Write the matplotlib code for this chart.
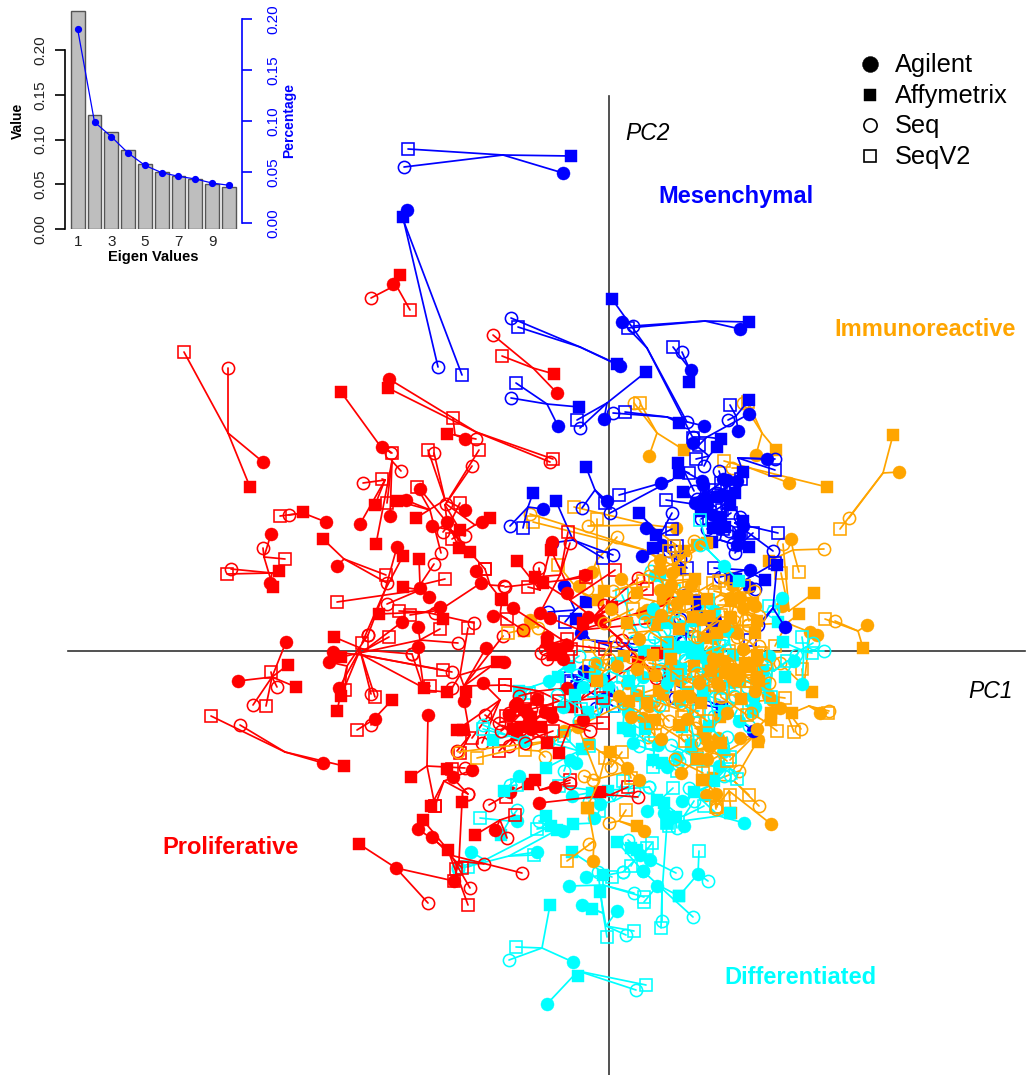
import matplotlib
matplotlib.use('Agg')
import matplotlib.pyplot as plt

plt.rcParams['font.family'] = ['Liberation Sans', 'DejaVu Sans']

W, H = 1029, 1075

# scree plot values
eigen_index = list(range(1, 11))
eigen_values = [0.2436, 0.127, 0.1087, 0.088, 0.0726, 0.0633, 0.059, 0.056, 0.050, 0.0473]
eigen_percent = [0.190, 0.099, 0.0846, 0.0685, 0.0564, 0.0492, 0.0456, 0.043, 0.039, 0.0368]

# every sample: hub, then Agilent, Affymetrix, Seq, SeqV2 scores (PC1, PC2 pairs)
red_samples = [
    (-381,218, -346,189, -359,164, -381,283, -425,299),
    (-345,94, -338,117, -336,64, -346,103, -324,92),
    (-337,78, -339,68, -330,80, -378,82, -382,77),
    (-306,138, -283,129, -306,139, -320,136, -329,135),
    (-265,92, -272,85, -286,112, -222,68, -223,76),
    (-231,208, -227,204, -268,259, -218,198, -217,198),
    (-133,219, -220,272, -221,263, -59,189, -56,192),
    (-154,216, -144,212, -162,217, -133,212, -156,233),
    (-164,151, -144,141, -193,133, -175,198, -181,201),
    (-164,146, -162,129, -149,121, -137,185, -130,201),
    (-224,171, -249,127, -234,146, -246,168, -227,172),
    (-217,190, -219,135, -233,107, -208,180, -222,148),
    (-179,141, -203,151, -212,150, -168,98, -192,164),
    (-160,126, -189,162, -150,103, -166,119, -149,148),
    (-134,126, -127,129, -119,133, -163,147, -157,112),
    (-159,121, -177,125, -139,99, -144,115, -124,82),
    (-224,61, -212,104, -206,95, -241,16, -247,8),
    (-189,66, -189,63, -190,92, -175,87, -164,72),
    (-189,61, -180,54, -206,64, -222,47, -272,49),
    (-119,66, -133,80, -108,52, -105,65, -124,82),
    (-169,41, -128,68, -166,32, -174,38, -199,36),
    (-184,39, -169,44, -230,37, -135,28, -210,40),
    (-244,1, -207,29, -275,14, -197,-3, -220,14),
    (-189,11, -191,24, -268,-6, -151,8, -169,22),
    (-247,-4, -276,-1, -185,-37, -157,-21, -166,-19),
    (-249,1, -270,-37, -268,-45, -238,-43, -234,-46),
    (-262,-15, -280,-11, -272,-60, -241,16, -264,-39),
    (-337,-26, -323,9, -321,-14, -356,-54, -343,-55),
    (-337,-26, -371,-30, -313,-36, -332,-36, -338,-21),
    (-324,-101, -286,-112, -265,-115, -369,-74, -398,-65),
    (-236,-69, -234,-68, -217,-49, -238,-74, -252,-79),
    (-185,-39, -191,4, -162,-41, -197,-3, -179,-35),
    (-145,-35, -123,3, -112,-11, -106,15, -104,-34),
    (-149,-24, -105,-11, -143,-41, -157,-37, -141,23),
    (-109,-49, -126,-32, -152,-79, -127,-92, -137,-87),
    (-139,-84, -145,-50, -146,-79, -152,-100, -149,-102),
    (-182,-115, -181,-64, -198,-126, -144,-117, -174,-155),
    (-159,-124, -156,-126, -162,-118, -141,-143, -157,-118),
    (-165,-130, -137,-119, -178,-155, -141,-143, -174,-155),
    (-161,-199, -191,-178, -186,-169, -139,-237, -141,-254),
    (-159,-204, -177,-186, -161,-199, -87,-222, -147,-217),
    (-213,-217, -213,-217, -250,-193, -181,-252, -155,-230),
    (-150,-210, -155,-230, -147,-151, -125,-213, -153,-218),
    (-89,-64, -94,-54, -84,-59, -110,-72, -103,-65),
    (-84,-74, -64,-61, -92,-84, -100,-95, -70,-80),
    (-94,-84, -80,-70, -96,-78, -124,-64, -110,-100),
    (-94,-139, -99,-141, -81,-133, -120,-154, -103,-146),
    (-69,-139, -54,-136, -74,-129, -39,-132, -39,-129),
    (1,-144, -70,-152, -9,-141, 29,-146, 19,-136),
    (-109,-169, -114,-179, -134,-184, -102,-187, -94,-164),
    (-69,61, -57,109, -92,90, -70,83, -81,64),
    (-49,76, -69,38, -74,74, -39,108, -41,119),
    (-44,71, -24,76, -58,101, -104,64, -23,74),
    (-39,51, -42,58, -66,68, 13,11, 6,81),
    (-19,31, -21,34, 3,44, 29,73, 38,62),
    (-29,21, -59,33, -26,28, 63,48, 56,29),
    (-49,1, -42,6, -56,1, -62,-8, -41,-6),
    (-39,6, -96,43, -62,9, -5,46, -4,2),
    (31,-9, -9,31, 48,-2, 47,-27, 50,-24),
    (-70,-40, -42,-37, -37,-56, -90,-45, -104,-34),
    (-29,-49, -26,-69, 29,-11, -14,-28, -6,-47),
    (-39,-74, -57,-66, -50,-102, -19,-80, -6,-72),
    (-109,36, -116,35, -107,51, -86,21, -102,32),
    (-213,366, -216,367, -209,376, -238,353, -199,341),
    (-76,283, -52,258, -55,277, -116,316, -107,295),
    (-85,-60, -92,-52, -78,-66, -100,-62, -72,-48),
    (-75,-70, -82,-62, -68,-76, -88,-78, -62,-60),
    (-95,-70, -100,-64, -88,-76, -108,-80, -84,-58),
    (-70,-85, -78,-78, -62,-92, -84,-92, -56,-80),
    (-65,-55, -72,-48, -58,-62, -78,-58, -50,-50),
    (-50,-5, -46,-8, -56,-4, -64,2, -38,2),
    (-55,8, -62,14, -48,2, -68,-2, -42,12),
]

blue_samples = [
    (-106,496, -46,478, -38,495, -205,484, -201,502),
    (-205,429, -202,441, -206,434, -171,284, -147,276),
    (-29,304, 11,285, 8,287, -98,333, -91,324),
    (38,303, 13,329, 3,352, 78,229, 84,213),
    (96,330, 131,322, 140,329, 24,325, 19,323),
    (80,283, 82,281, 80,269, 73,299, 64,304),
    (-62,247, -51,225, -30,244, -98,253, -93,268),
    (-2,248, -5,232, 37,279, -29,223, -32,231),
    (58,234, 95,225, 70,228, 4,238, 16,239),
    (127,235, 129,220, 140,251, 119,231, 121,246),
    (98,214, 140,237, 112,212, 84,214, 90,206),
    (129,193, 158,192, 134,179, 166,192, 166,181),
    (100,195, 84,208, 108,204, 95,185, 87,192),
    (63,171, 52,168, 70,178, 1,138, 10,156),
    (75,180, 93,170, 69,188, 85,160, 80,178),
    (-14,161, -2,150, -23,184, -27,143, -4,148),
    (-81,144, -66,142, -76,158, -99,125, -86,123),
    (-36,111, -57,108, -53,150, 4,96, -6,93),
    (-34,41, -45,65, -23,49, -61,39, -44,29),
    (-19,11, -28,18, -33,32, 17,0, 26,7),
    (78,18, 64,8, 63,9, 71,32, 83,14),
    (118,-59, 144,-80, 113,-56, 66,-47, 68,-35),
    (-12,-26, -25,-20, -5,-30, -42,-26, -38,-30),
    (-12,-45, -30,-35, 0,-40, -13,-57, 4,-55),
    (164,43, 176,24, 168,86, 149,26, 141,11),
    (126,128, 134,125, 134,130, 164,100, 169,118),
    (116,161, 118,171, 115,155, 110,180, 106,161),
    (121,151, 128,170, 121,146, 131,134, 113,141),
    (91,146, 86,148, 74,159, 95,142, 57,151),
    (96,151, 96,154, 92,140, 107,144, 100,132),
    (106,126, 111,123, 104,123, 120,120, 130,118),
    (51,116, 37,123, 30,138, 63,138, 63,122),
    (56,101, 33,95, 47,116, 71,92, 78,83),
    (51,101, 53,106, 44,103, 60,100, 68,105),
    (111,111, 128,106, 103,109, 124,107, 114,122),
    (136,81, 141,81, 156,71, 111,74, 105,83),
    (136,71, 140,64, 127,72, 146,62, 166,88),
    (91,41, 87,51, 88,43, 76,56, 104,25),
    (101,31, 100,31, 106,29, 98,33, 106,26),
    (105,140, 98,146, 112,134, 92,132, 118,148),
    (120,165, 114,172, 126,158, 108,158, 132,172),
    (100,160, 94,166, 108,154, 88,152, 112,168),
    (110,130, 104,136, 116,124, 98,122, 122,138),
    (135,110, 130,116, 140,104, 126,98, 144,118),
]

orange_samples = [
    (274,178, 290,179, 284,216, 240,133, 231,122),
    (141,183, 180,168, 218,164, 123,183, 115,190),
    (153,218, 147,196, 167,201, 134,248, 139,249),
    (184,101, 182,112, 160,90, 215,102, 190,79),
    (180,40, 173,45, 205,58, 174,107, 172,78),
    (249,20, 258,26, 254,3, 226,30, 216,32),
    (178,28, 208,16, 190,37, 139,26, 166,5),
    (48,218, 40,195, 75,201, 25,248, 31,248),
    (36,101, 51,91, 71,81, -79,137, -76,129),
    (41,126, 67,123, 75,100, -21,125, -35,144),
    (-12,91, -17,79, -5,60, 8,114, -12,132),
    (195,-35, 201,19, 203,-41, 171,-12, 193,-18),
    (200,-55, 211,-62, 183,-62, 220,-60, 219,-62),
    (175,-55, 171,-57, 162,-69, 192,-78, 185,-81),
    (160,-45, 159,-44, 148,-4, 164,-12, 176,-47),
    (150,-50, 163,-49, 141,-16, 126,-46, 144,-49),
    (145,-85, 131,-87, 149,-91, 104,-108, 121,-109),
    (125,-130, 149,-89, 93,-129, 150,-155, 140,-144),
    (120,-140, 162,-173, 122,-162, 107,-156, 121,-144),
    (105,-130, 97,-144, 104,-127, 130,-120, 107,-156),
    (100,-85, 109,-87, 111,-66, 86,-77, 73,-66),
    (95,-80, 96,-86, 94,-81, 90,-70, 88,-60),
    (85,-100, 100,-95, 83,-97, 78,-85, 88,-106),
    (45,-75, 34,-67, 37,-74, 39,-86, 46,-84),
    (50,-60, 40,-55, 46,-69, 60,-70, 54,-54),
    (30,-45, 18,-32, 54,-44, 20,-25, 28,-41),
    (70,-30, 28,-44, 79,-41, 69,-17, 60,-35),
    (85,-30, 81,-46, 99,-19, 90,-5, 75,-25),
    (75,-20, 71,-29, 104,-17, 95,-40, 65,-5),
    (90,-5, 61,-19, 104,-11, 85,15, 98,5),
    (105,0, 98,-9, 109,-2, 120,-10, 110,-25),
    (110,5, 103,-1, 94,13, 80,25, 115,20),
    (135,-5, 128,18, 131,-19, 150,5, 120,0),
    (125,25, 104,13, 122,33, 139,26, 115,40),
    (135,40, 134,43, 148,30, 150,35, 125,20),
    (130,60, 146,45, 123,73, 111,50, 140,30),
    (130,60, 124,66, 121,34, 128,50, 110,70),
    (130,55, 131,53, 122,50, 145,60, 118,62),
    (125,55, 121,53, 144,48, 105,60, 135,65),
    (55,50, 38,41, 54,51, 70,30, 60,65),
    (45,50, 33,38, 41,33, 25,55, 70,45),
    (55,65, 51,61, 74,54, 45,85, 80,70),
    (60,70, 58,58, 86,72, 40,75, 70,90),
    (65,85, 63,78, 88,106, 85,110, 60,100),
    (70,90, 51,82, 98,108, 76,95, 65,105),
    (-30,60, -30,65, -11,51, -22,62, -51,86),
    (-70,25, -79,31, -85,20, -71,23, -101,18),
    (-10,-10, -12,-12, 15,-5, 5,10, -20,5),
    (-60,-90, 10,-45, 20,-50, -151,-101, -132,-107),
    (-70,-100, -45,-80, -30,-75, -64,-106, -84,-99),
    (10,-105, 18,-117, 1,-101, 2,-116, 13,-101),
    (20,-120, 30,-129, -20,-93, -16,-129, 22,-127),
    (-10,-130, -31,-76, -22,-157, -25,-125, -4,-107),
    (10,-170, 35,-180, 28,-175, 0,-172, 17,-159),
    (-15,-190, -16,-210, -21,-157, -20,-193, -42,-210),
    (105,-140, 107,-143, 94,-129, 107,-158, 108,-156),
    (120,-30, 110,-35, 130,-30, 140,-20, 100,-30),
    (100,-20, 115,-10, 85,-15, 90,-30, 112,-45),
    (60,-55, 70,-45, 50,-40, 45,-50, 75,-60),
    (110,30, 115,25, 100,35, 125,30, 95,20),
    (40,20, 30,12, 48,26, 20,18, 58,8),
    (60,30, 52,36, 70,22, 44,28, 66,44),
    (35,-10, 28,-18, 44,-4, 22,-6, 40,-22),
    (55,-15, 46,-24, 62,-8, 40,-12, 68,-24),
    (75,40, 68,48, 84,34, 60,42, 90,46),
    (90,60, 82,66, 98,52, 74,58, 104,68),
    (100,25, 92,32, 108,18, 88,14, 112,36),
    (115,-25, 108,-32, 122,-18, 104,-16, 126,-38),
    (148,-15, 148,-8, 148,-26, 156,-14, 140,-6),
    (148,-35, 146,-40, 150,-30, 160,-32, 136,-30),
    (95,-25, 90,-32, 102,-20, 84,-26, 106,-34),
    (110,-15, 104,-8, 116,-22, 98,-28, 120,-4),
    (60,-80, 52,-88, 70,-74, 48,-72, 76,-90),
    (30,-60, 22,-66, 38,-52, 14,-52, 42,-72),
    (-5,-20, 8,-15, -12,-30, 0,-8, -20,-15),
    (10,35, 2,42, 18,28, -5,28, 24,42),
    (20,65, 12,72, 28,58, 4,60, 34,70),
    (85,-60, 78,-68, 92,-52, 72,-52, 98,-70),
    (125,-55, 118,-62, 132,-48, 112,-46, 138,-64),
    (155,-70, 148,-78, 162,-62, 142,-62, 168,-80),
    (130,-20, 124,-28, 136,-12, 118,-12, 142,-30),
    (70,60, 62,66, 78,52, 56,56, 84,62),
    (105,-100, 98,-108, 112,-92, 92,-92, 118,-110),
    (80,-115, 72,-122, 88,-108, 66,-108, 94,-122),
    (140,10, 134,2, 146,18, 128,14, 152,-2),
]

cyan_samples = [
    (-31,-320, -62,-353, -31,-325, 27,-339, 37,-334),
    (-67,-297, -36,-311, -59,-254, -100,-309, -93,-296),
    (-3,-275, 8,-260, -9,-241, 17,-284, 25,-280),
    (-6,-262, -27,-254, -17,-258, -11,-221, -2,-286),
    (-6,-234, -40,-235, -6,-224, 25,-242, 35,-246),
    (-2,-224, -23,-226, -37,-201, 14,-221, 3,-226),
    (49,-234, 34,-220, 70,-245, 84,-266, 35,-251),
    (53,-242, 48,-235, 58,-172, 53,-270, 52,-277),
    (89,-223, 89,-223, 70,-245, 99,-230, 90,-200),
    (34,-204, 41,-209, 22,-197, 19,-189, 43,-192),
    (33,-205, 31,-204, 28,-199, 67,-222, 38,-197),
    (25,-210, 34,-220, 8,-191, 14,-221, 22,-215),
    (-15,-172, -15,-167, -36,-173, -20,-150, -10,-160),
    (-59,-176, -46,-180, -63,-165, -70,-170, -72,-178),
    (-124,-209, -138,-201, -58,-175, -151,-216, -141,-216),
    (-100,-205, -72,-201, -52,-179, -151,-218, -75,-204),
    (-100,-170, -92,-170, -108,-184, -92,-159, -129,-167),
    (-10,-140, -37,-145, -17,-142, 40,-136, -50,-135),
    (5,-150, -9,-153, -1,-140, 25,-140, 14,-130),
    (50,-150, 38,-160, 48,-149, 40,-136, 64,-137),
    (65,-160, 55,-162, 55,-152, 68,-177, 60,-175),
    (75,-165, 75,-175, 67,-166, 85,-150, 95,-155),
    (110,-165, 135,-172, 121,-162, 80,-137, 58,-172),
    (100,-135, 73,-150, 85,-141, 115,-125, 99,-121),
    (170,45, 173,53, 169,29, 164,40, 160,45),
    (195,0, 193,-33, 174,9, 215,0, 193,14),
    (190,0, 185,-10, 176,-26, 204,8, 203,-2),
    (165,-20, 160,-5, 154,-19, 187,-4, 178,-10),
    (140,-30, 123,-31, 131,-31, 155,-25, 157,-20),
    (140,-55, 146,-56, 144,-61, 125,-45, 143,-49),
    (120,-95, 114,-101, 100,-75, 118,-86, 121,-106),
    (120,-115, 110,-115, 105,-130, 121,-124, 128,-128),
    (85,0, 69,4, 89,3, 76,-9, 95,-15),
    (85,-5, 100,-10, 83,-2, 70,10, 110,5),
    (80,0, 60,10, 91,-6, 65,-15, 85,20),
    (70,0, 59,-2, 78,4, 45,14, 50,-10),
    (65,5, 72,25, 58,5, 55,20, 40,5),
    (120,10, 118,21, 124,-4, 114,11, 100,-10),
    (30,15, 18,28, 35,0, 25,10, 13,56),
    (50,70, 46,76, 51,76, 42,80, 65,60),
    (95,45, 105,40, 85,30, 99,43, 99,51),
    (45,-45, 38,-51, 60,-25, 50,-55, 54,-36),
    (25,-40, 34,-26, 20,-30, 24,-21, 29,-41),
    (15,-60, 19,-61, 14,-77, 8,-36, 5,-55),
    (20,-65, -1,-35, 21,-80, 30,-70, 25,-55),
    (80,-60, 70,-50, 73,-76, 85,-90, 90,-60),
    (100,-45, 110,-35, 94,-44, 105,-65, 111,-49),
    (125,-65, 130,-70, 115,-60, 140,-75, 128,-59),
    (45,-100, 49,-94, 44,-109, 30,-95, 44,-116),
    (55,-110, 58,-116, 53,-112, 70,-110, 68,-120),
    (-30,-100, -33,-112, -27,-98, -61,-91, -45,-85),
    (-40,-105, -39,-109, -63,-117, -45,-120, -20,-95),
    (-50,-20, -40,-15, -51,-26, -30,-5, -54,-32),
    (-75,-35, -60,-30, -90,-40, -89,-44, -80,-42),
    (-10,-65, -5,-50, -21,-61, -30,-70, -15,-40),
    (-100,-85, -85,-90, -116,-89, -126,-74, -126,-78),
    (-100,-135, -90,-125, -105,-140, -99,-134, -92,-134),
    (100,100, 115,85, 130,70, 91,106, 91,131),
    (65,-25, 58,-32, 72,-18, 52,-18, 78,-32),
    (100,-30, 94,-38, 106,-22, 88,-22, 112,-36),
    (50,35, 44,42, 58,28, 36,30, 64,40),
    (0,-20, -8,-28, 8,-12, -14,-12, 14,-26),
    (150,-40, 144,-46, 156,-34, 138,-36, 162,-46),
    (30,-85, 24,-92, 36,-78, 18,-78, 42,-92),
    (75,-100, 68,-106, 82,-94, 62,-94, 88,-108),
    (-20,-30, -26,-36, -14,-24, -32,-24, -8,-38),
    (-40,-50, -46,-56, -34,-44, -52,-44, -28,-58),
]

platform_names = ['Agilent', 'Affymetrix', 'Seq', 'SeqV2']
subtype_names = ['Mesenchymal', 'Immunoreactive', 'Proliferative', 'Differentiated']

RED, BLUE, ORANGE, CYAN = '#FF0000', '#0000FF', '#FFA500', '#00FFFF'
MARKERS = [('o', True, 9.4), ('s', True, 8.0), ('o', False, 8.8), ('s', False, 8.2)]


def px_axes(left, top, right, bottom):
    return [left / W, 1 - bottom / H, (right - left) / W, (bottom - top) / H]


def draw_sample(ax, sample, color):
    hx, hy = sample[0], sample[1]
    for i, (marker, filled, size) in enumerate(MARKERS):
        x, y = sample[2 + 2 * i], sample[3 + 2 * i]
        ax.plot([hx, x], [hy, y], color=color, lw=1.25, solid_capstyle='round')
    for i, (marker, filled, size) in enumerate(MARKERS):
        x, y = sample[2 + 2 * i], sample[3 + 2 * i]
        ax.plot([x], [y], marker=marker, ms=size, mec=color, mew=1.15 if not filled else 0.3,
                mfc=color if filled else 'none', ls='none')


fig = plt.figure(figsize=(W / 100, H / 100), dpi=100)

# main PCA panel
ax = fig.add_axes([0, 0, 1, 1])
ax.set_xlim(-609, 420)
ax.set_ylim(-424, 651)
ax.axis('off')
ax.plot([-541, 416], [0, 0], color='#333333', lw=1.2)
ax.plot([0, 0], [555, -424], color='#333333', lw=1.2)

groups = [(red_samples, RED), (orange_samples, ORANGE), (cyan_samples, CYAN), (blue_samples, BLUE)]
for n in range(max(len(g[0]) for g in groups)):
    for samples, color in groups:
        if n < len(samples):
            draw_sample(ax, samples[n], color)

ax.text(39, 517, 'PC2', fontsize=16.5, style='italic', ha='center', va='center', color='black')
ax.text(382, -41, 'PC1', fontsize=16.5, style='italic', ha='center', va='center', color='black')
label_pos = [(127, 454, BLUE), (316, 322, ORANGE), (-379, -197, RED), (191, -327, CYAN)]
for name, (x, y, color) in zip(subtype_names, label_pos):
    ax.text(x, y, name, fontsize=17, fontweight='bold', color=color, ha='center', va='center')

# platform key
key_sizes = [11.5, 8.5, 9.5, 9.0]
for i, (name, (marker, filled, size)) in enumerate(zip(platform_names, MARKERS)):
    yy = 1 - (64 + 30.7 * i) / H
    ax.plot([870 / W], [yy], transform=ax.transAxes, marker=marker, ms=key_sizes[i],
            mec='black', mew=1.2 if not filled else 0.3, mfc='black' if filled else 'none', ls='none')
    ax.text(895 / W, yy - 0.001, name, transform=ax.transAxes, fontsize=18.3, va='center', ha='left', color='black')

# scree inset
inset = fig.add_axes(px_axes(65, 0, 242, 229))
inset.patch.set_alpha(0)
inset.bar(eigen_index, eigen_values, width=0.833, color='#BEBEBE', edgecolor='#555555', linewidth=1.0)
inset.set_xlim(0.244, 10.78)
inset.set_ylim(0, 0.2559)
inset.spines['top'].set_visible(False)
inset.spines['right'].set_visible(False)
inset.spines['bottom'].set_visible(False)
inset.spines['left'].set_bounds(0, 0.20)
inset.spines['left'].set_linewidth(1.2)
inset.set_yticks([0, 0.05, 0.10, 0.15, 0.20])
inset.set_yticklabels(['0.00', '0.05', '0.10', '0.15', '0.20'], rotation=90, va='center', fontsize=11, color='#222222')
inset.tick_params(axis='y', length=7.5, width=1.2, pad=5)
inset.set_xticks([1, 3, 5, 7, 9])
inset.tick_params(axis='x', length=0, labelsize=11, pad=4, labelcolor='#222222')

twin = inset.twinx()
twin.patch.set_alpha(0)
twin.plot(eigen_index, eigen_percent, color=BLUE, lw=0.9, marker='o', ms=4.2)
twin.set_ylim(-0.0062, 0.219)
for side in ['top', 'left', 'bottom']:
    twin.spines[side].set_visible(False)
twin.spines['right'].set_bounds(0, 0.20)
twin.spines['right'].set_color(BLUE)
twin.spines['right'].set_linewidth(1.2)
twin.set_yticks([0, 0.05, 0.10, 0.15, 0.20])
twin.set_yticklabels(['0.00', '0.05', '0.10', '0.15', '0.20'], rotation=90, va='center', fontsize=11, color=BLUE)
twin.tick_params(axis='y', length=7.5, width=1.2, color=BLUE, pad=10)

fig.text(153 / W, 1 - 257 / H, 'Eigen Values', fontsize=10.5, fontweight='bold', ha='center', va='center')
fig.text(18 / W, 1 - 121 / H, 'Value', fontsize=10, fontweight='bold', rotation=90, ha='center', va='center')
fig.text(289 / W, 1 - 121 / H, 'Percentage', fontsize=10, fontweight='bold', color=BLUE, rotation=90, ha='center', va='center')

fig.savefig('out.png', dpi=100)
